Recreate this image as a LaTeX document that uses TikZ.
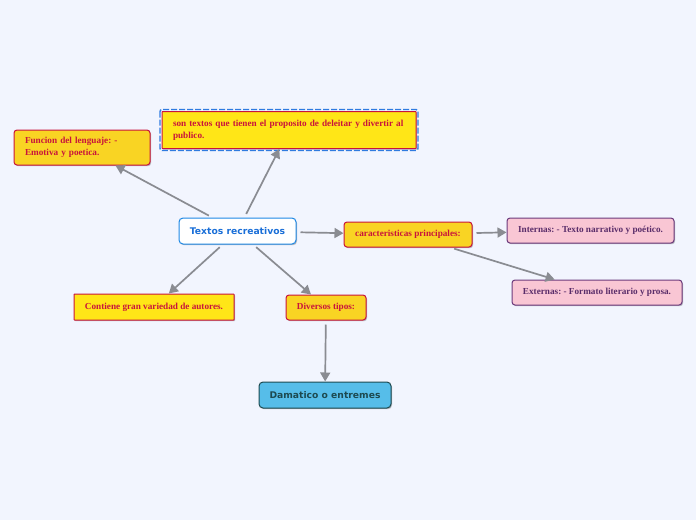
\documentclass[tikz,border=0pt]{standalone}
\usepackage{fontspec}
\setmainfont{Liberation Serif}
\newfontfamily\dvs{DejaVu Sans}
\usetikzlibrary{arrows.meta,shadows}
\frenchspacing
\definecolor{bg}{HTML}{F2F5FE}
\definecolor{goldf}{HTML}{F9D423}
\definecolor{yelf}{HTML}{FFE617}
\definecolor{redb}{HTML}{C8143C}
\definecolor{redt}{HTML}{C8143C}
\definecolor{pinkf}{HTML}{F9C6D4}
\definecolor{purb}{HTML}{6C3A7C}
\definecolor{purt}{HTML}{5A2D6A}
\definecolor{bluef}{HTML}{56BDE9}
\definecolor{darkb}{HTML}{1D4A50}
\definecolor{cenb}{HTML}{1E88E5}
\definecolor{cent}{HTML}{1A6FD8}
\definecolor{edgeg}{HTML}{8A8C92}
\definecolor{dashb}{HTML}{2F7BE0}
\tikzset{
  box/.style={draw, line width=1pt, rounded corners=3pt, inner ysep=0pt, inner xsep=0pt,
    font=\bfseries\fontsize{9.2}{11.5}\selectfont, minimum height=25pt,
    drop shadow={shadow xshift=1pt, shadow yshift=-1.2pt, opacity=0.25, fill=black}},
  goldbox/.style={box, fill=goldf, draw=redb, text=redt},
  yelbox/.style={box, fill=yelf, draw=redb, text=redt, rounded corners=0.5pt},
  pinkbox/.style={box, fill=pinkf, draw=purb, text=purt},
  conn/.style={draw=edgeg, line width=1.7pt, -{Triangle[length=9pt,width=10pt]}, shorten <=4pt}
}
\begin{document}
\begin{tikzpicture}[x=1pt,y=-1pt]
\useasboundingbox (0,0) rectangle (696,520);
\fill[bg] (0,0) rectangle (696,520);

\node[box, fill=white, draw=cenb, text=cent, rounded corners=4pt, minimum width=117pt, minimum height=26pt,
  font=\dvs\bfseries\fontsize{9.2}{11}\selectfont] (cen) at (237.5,231) {Textos recreativos};

\node[goldbox, text width=114pt, inner xsep=11pt, align=left, minimum height=35pt] (fun) at (82,147.5)
  {Funcion del lenguaje: -\\Emotiva y poetica.};

\node[yelbox, text width=232pt, inner xsep=11pt, align=left, minimum height=37pt,
  font=\bfseries\fontsize{9.2}{12}\selectfont] (son) at (289,130)
  {son textos que tienen el proposito de deleitar y divertir al\\publico.};
\draw[dashb, line width=1.4pt, dash pattern=on 6pt off 2pt, rounded corners=2pt]
  ([shift={(-1.5pt,1.5pt)}]son.north west) rectangle ([shift={(1.5pt,-1.5pt)}]son.south east);

\node[goldbox, minimum width=128pt] (car) at (408,234.5) {caracteristicas principales:};

\node[pinkbox, minimum width=167pt] (int) at (590.5,230.5) {Internas: - Texto narrativo y poético.};
\node[pinkbox, minimum width=170pt] (ext) at (597,292.5) {Externas: - Formato literario y prosa.};

\node[yelbox, minimum width=160pt, minimum height=26pt] (con) at (154,307) {Contiene gran variedad de autores.};
\node[goldbox, minimum width=80pt] (div) at (326,307.5) {Diversos tipos:};

\node[box, fill=bluef, draw=darkb, text=darkb, rounded corners=4pt, minimum width=132pt, minimum height=26pt,
  font=\dvs\bfseries\fontsize{9.2}{11}\selectfont] (dam) at (325,395) {Damatico o entremes};

\draw[conn] (cen) -- (fun);
\draw[conn] (cen) -- (son);
\draw[conn] (cen) -- (car);
\draw[conn] (cen) -- (con);
\draw[conn] (cen) -- (div);
\draw[conn] (car) -- (int);
\draw[conn] (car) -- (ext);
\draw[conn] (div) -- (dam);
\end{tikzpicture}
\end{document}
